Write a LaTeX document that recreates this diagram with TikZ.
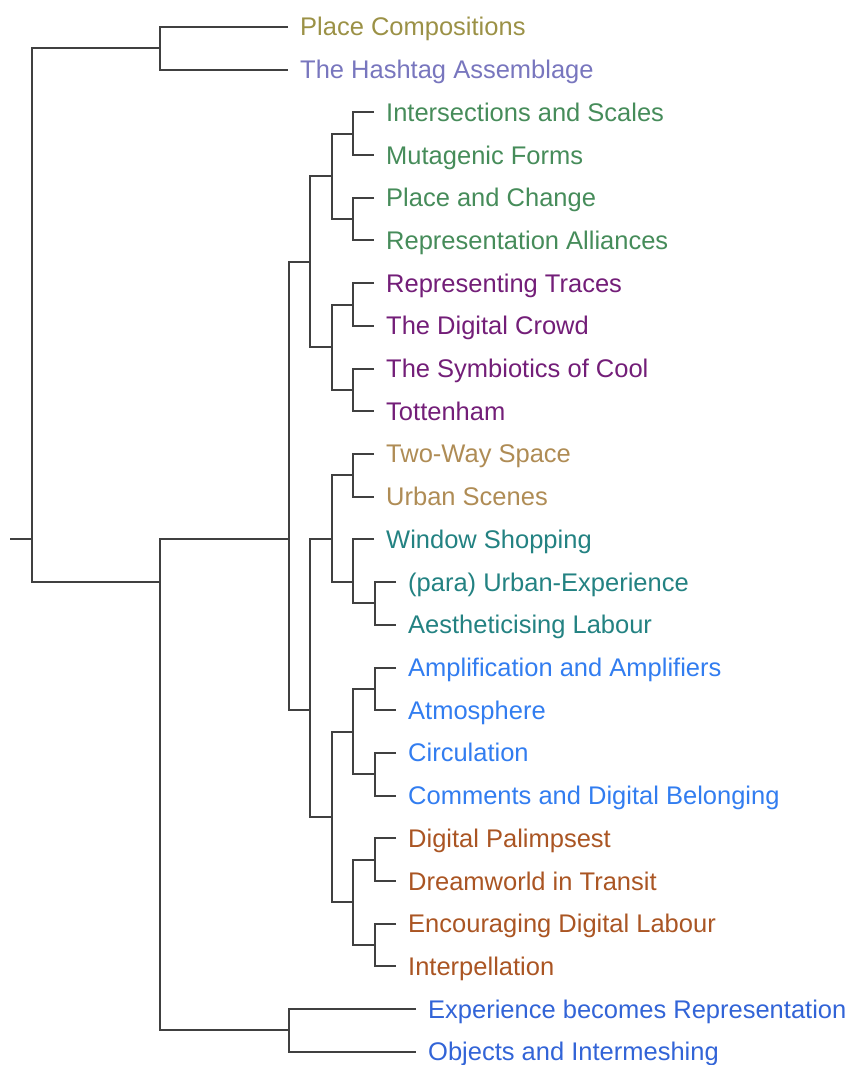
\documentclass[tikz,border=0pt]{standalone}
\usepackage{fontspec}
\setmainfont{Liberation Sans}
\usepackage{xcolor}
\usepackage{tikz}
\usetikzlibrary{positioning,calc}
\definecolor{linegray}{RGB}{64,64,64}
\definecolor{leafolive}{RGB}{155,145,70}
\definecolor{leaflavender}{RGB}{120,118,190}
\definecolor{leafgreen}{RGB}{70,140,90}
\definecolor{leafpurple}{RGB}{115,30,120}
\definecolor{leaftan}{RGB}{175,140,85}
\definecolor{leafteal}{RGB}{35,130,130}
\definecolor{leafblue}{RGB}{50,125,240}
\definecolor{leafbrown}{RGB}{170,85,35}
\definecolor{leafroyal}{RGB}{50,100,215}

\begin{document}
\begin{tikzpicture}[
  x=1pt, y=-42.7pt,
  leaf/.style={anchor=west, inner xsep=12pt, inner ysep=0pt, text height=18pt,
               text depth=0pt, font=\fontsize{25.5}{30}\selectfont},
  tree/.style={draw=linegray, line width=2pt}
]
\useasboundingbox (0,-0.632) rectangle (850,24.309);

%% Leaves
\node[leaf, text=leafolive]    (pc)      at (288,0)  {Place Compositions};
\node[leaf, text=leaflavender] (hash)    at (288,1)  {The Hashtag Assemblage};
\node[leaf, text=leafgreen]    (inter)   at (374,2)  {Intersections and Scales};
\node[leaf, text=leafgreen]    (muta)    at (374,3)  {Mutagenic Forms};
\node[leaf, text=leafgreen]    (pchange) at (374,4)  {Place and Change};
\node[leaf, text=leafgreen]    (ralli)   at (374,5)  {Representation Alliances};
\node[leaf, text=leafpurple]   (rtraces) at (374,6)  {Representing Traces};
\node[leaf, text=leafpurple]   (dcrowd)  at (374,7)  {The Digital Crowd};
\node[leaf, text=leafpurple]   (symb)    at (374,8)  {The Symbiotics of Cool};
\node[leaf, text=leafpurple]   (totten)  at (374,9)  {Tottenham};
\node[leaf, text=leaftan]      (twoway)  at (374,10) {Two-Way Space};
\node[leaf, text=leaftan]      (uscenes) at (374,11) {Urban Scenes};
\node[leaf, text=leafteal]     (window)  at (374,12) {Window Shopping};
\node[leaf, text=leafteal]     (para)    at (396,13) {(para) Urban-Experience};
\node[leaf, text=leafteal]     (aesth)   at (396,14) {Aestheticising Labour};
\node[leaf, text=leafblue]     (ampli)   at (396,15) {Amplification and Amplifiers};
\node[leaf, text=leafblue]     (atmos)   at (396,16) {Atmosphere};
\node[leaf, text=leafblue]     (circ)    at (396,17) {Circulation};
\node[leaf, text=leafblue]     (comm)    at (396,18) {Comments and Digital Belonging};
\node[leaf, text=leafbrown]    (palim)   at (396,19) {Digital Palimpsest};
\node[leaf, text=leafbrown]    (dream)   at (396,20) {Dreamworld in Transit};
\node[leaf, text=leafbrown]    (encour)  at (396,21) {Encouraging Digital Labour};
\node[leaf, text=leafbrown]    (interp)  at (396,22) {Interpellation};
\node[leaf, text=leafroyal]    (exper)   at (416,23) {Experience becomes Representation};
\node[leaf, text=leafroyal]    (objects) at (416,24) {Objects and Intermeshing};

%% Merge points
\coordinate (stub) at (10,12);
\coordinate (root) at (32,12);
\coordinate (a)    at (160,0.5);
\coordinate (b)    at (160,13);
\coordinate (c)    at (289,12);
\coordinate (d)    at (289,23.5);
\coordinate (e)    at (310,5.5);
\coordinate (f)    at (310,16);
\coordinate (g)    at (332,3.5);
\coordinate (h)    at (332,7.5);
\coordinate (i)    at (332,12);
\coordinate (j)    at (332,18.5);
\coordinate (g1)   at (353,2.5);
\coordinate (g2)   at (353,4.5);
\coordinate (h1)   at (353,6.5);
\coordinate (h2)   at (353,8.5);
\coordinate (i1)   at (353,10.5);
\coordinate (i2)   at (353,13);
\coordinate (k)    at (353,16.5);
\coordinate (l)    at (353,20.5);
\coordinate (i3)   at (375,13.5);
\coordinate (k1)   at (375,15.5);
\coordinate (k2)   at (375,17.5);
\coordinate (l1)   at (375,19.5);
\coordinate (l2)   at (375,21.5);

%% Upper levels
\draw[tree] (stub) -- (root);
\draw[tree] (a) -| (root) |- (b);
\draw[tree] (pc.west) -| (a) |- (hash.west);
\draw[tree] (c) -| (b) |- (d);
\draw[tree] (exper.west) -| (d) |- (objects.west);
\draw[tree] (e) -| (c) |- (f);

%% Upper cluster
\draw[tree] (g) -| (e) |- (h);
\draw[tree] (g1) -| (g) |- (g2);
\draw[tree] (h1) -| (h) |- (h2);
\draw[tree] (inter.west)   -| (g1) |- (muta.west);
\draw[tree] (pchange.west) -| (g2) |- (ralli.west);
\draw[tree] (rtraces.west) -| (h1) |- (dcrowd.west);
\draw[tree] (symb.west)    -| (h2) |- (totten.west);

%% Lower cluster
\draw[tree] (i) -| (f) |- (j);
\draw[tree] (i1) -| (i) |- (i2);
\draw[tree] (twoway.west) -| (i1) |- (uscenes.west);
\draw[tree] (window.west) -| (i2) |- (i3);
\draw[tree] (para.west)   -| (i3) |- (aesth.west);
\draw[tree] (k) -| (j) |- (l);
\draw[tree] (k1) -| (k) |- (k2);
\draw[tree] (l1) -| (l) |- (l2);
\draw[tree] (ampli.west)  -| (k1) |- (atmos.west);
\draw[tree] (circ.west)   -| (k2) |- (comm.west);
\draw[tree] (palim.west)  -| (l1) |- (dream.west);
\draw[tree] (encour.west) -| (l2) |- (interp.west);

\end{tikzpicture}
\end{document}
